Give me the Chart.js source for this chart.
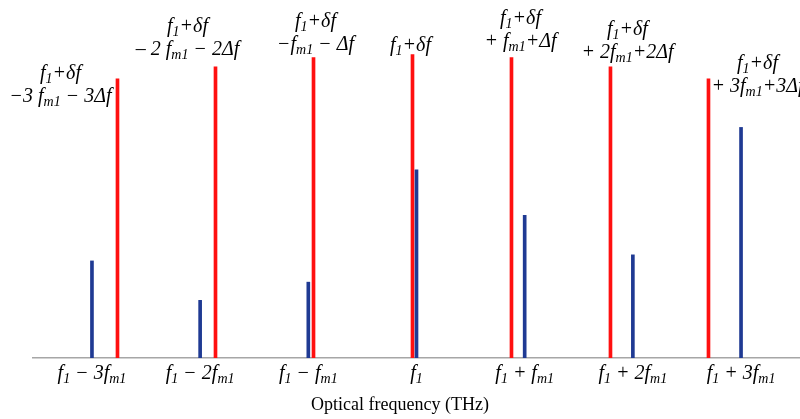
<!DOCTYPE html>
<html lang="en">
<head>
  <meta charset="UTF-8" />
  <title>Optical comb spectrum</title>
  <script src="https://cdn.jsdelivr.net/npm/chart.js"></script>
  <style>
    html, body { margin: 0; padding: 0; background: #fff; }
    #wrap { width: 800px; height: 419px; }
  </style>
</head>
<body>
  <div id="wrap"><canvas id="spectrum"></canvas></div>

  <script>
    // blue comb: harmonic index k of f1 + k*fm1 (units of fm1)
    const harmonics = [-3, -2, -1, 0, 1, 2, 3];
    const blueAmp = [0.32, 0.19, 0.25, 0.62, 0.47, 0.34, 0.76];

    // red comb: shifted by δf and spaced by fm1+Δf (same units)
    const redPos = [-2.764, -1.858, -0.952, -0.037, 0.878, 1.793, 2.699];
    const redAmp = [0.92, 0.96, 0.99, 1.0, 0.99, 0.96, 0.92];

    // "_{..}" marks a subscript
    const tickLabels = [
      'f_{1} − 3f_{m1}', 'f_{1} − 2f_{m1}', 'f_{1} − f_{m1}', 'f_{1}',
      'f_{1} + f_{m1}', 'f_{1} + 2f_{m1}', 'f_{1} + 3f_{m1}'
    ];
    const redNotes = [
      ['f_{1}+δf', '−3 f_{m1} − 3Δf'],
      ['f_{1}+δf', '– 2 f_{m1} − 2Δf'],
      ['f_{1}+δf', '−f_{m1} − Δf'],
      ['f_{1}+δf'],
      ['f_{1}+δf', '+ f_{m1}+Δf'],
      ['f_{1}+δf', '+ 2f_{m1}+2Δf'],
      ['f_{1}+δf', '+ 3f_{m1}+3Δf']
    ];
    const axisTitle = 'Optical frequency (THz)';
    // pixel nudge of each note's last line from the top of its red line
    const noteNudge = [[-57, 18], [-28, -17], [2, -13], [-2, -9], [9, -16], [17, -14], [49, 8]];

    const MATH_FONT = '"Liberation Serif", "DejaVu Serif", serif';

    function parseRich(str) {
      const runs = [];
      const re = /_\{([^}]*)\}|([^_]+)/g;
      let m;
      while ((m = re.exec(str)) !== null) {
        if (m[1] !== undefined) runs.push({ t: m[1], sub: true });
        else runs.push({ t: m[2], sub: false });
      }
      return runs;
    }

    function drawRich(ctx, str, cx, cy, size) {
      const runs = parseRich(str);
      const subSize = Math.round(size * 0.7);
      let total = 0;
      runs.forEach(r => {
        ctx.font = 'italic ' + (r.sub ? subSize : size) + 'px ' + MATH_FONT;
        r.w = ctx.measureText(r.t).width;
        total += r.w;
      });
      let x = cx - total / 2;
      runs.forEach(r => {
        ctx.font = 'italic ' + (r.sub ? subSize : size) + 'px ' + MATH_FONT;
        ctx.fillText(r.t, x, cy + (r.sub ? size * 0.28 : 0));
        x += r.w;
      });
    }

    const mathLabels = {
      id: 'mathLabels',
      afterDraw(chart) {
        const ctx = chart.ctx;
        const xs = chart.scales.x, ys = chart.scales.y;
        ctx.save();
        ctx.fillStyle = '#000';
        ctx.textAlign = 'left';
        ctx.textBaseline = 'middle';

        harmonics.forEach((k, i) => {
          drawRich(ctx, tickLabels[i], xs.getPixelForValue(k), chart.chartArea.bottom + 16, 20);
        });

        redPos.forEach((p, i) => {
          const lines = redNotes[i];
          const cx = xs.getPixelForValue(p) + noteNudge[i][0];
          const lastY = ys.getPixelForValue(redAmp[i]) + noteNudge[i][1];
          lines.forEach((ln, j) => {
            drawRich(ctx, ln, cx, lastY - (lines.length - 1 - j) * 23, 20);
          });
        });

        // axis title sits centred on the page, not on the plot area
        ctx.textAlign = 'center';
        ctx.font = '18px ' + MATH_FONT;
        ctx.fillText(axisTitle, chart.width / 2, chart.chartArea.bottom + 47);
        ctx.restore();
      }
    };

    new Chart(document.getElementById('spectrum'), {
      type: 'bar',
      data: {
        datasets: [
          {
            label: 'Comb 1',
            data: harmonics.map((k, i) => ({ x: k, y: blueAmp[i] })),
            backgroundColor: '#1f3a93',
            barThickness: 3,
            grouped: false
          },
          {
            label: 'Comb 2',
            data: redPos.map((p, i) => ({ x: p, y: redAmp[i] })),
            backgroundColor: '#ff1010',
            barThickness: 3,
            grouped: false
          }
        ]
      },
      options: {
        responsive: true,
        maintainAspectRatio: false,
        animation: false,
        layout: { padding: { left: 33, right: 0, top: 0, bottom: 61 } },
        plugins: {
          legend: { display: false },
          tooltip: { enabled: false }
        },
        scales: {
          x: {
            type: 'linear',
            min: -3.545,
            max: 3.545,
            offset: false,
            grid: { display: false, drawTicks: false },
            border: { display: true, color: '#a6a6a6', width: 1.5 },
            ticks: { display: false }
          },
          y: {
            display: false,
            min: 0,
            max: 1.18
          }
        }
      },
      plugins: [mathLabels]
    });
  </script>
</body>
</html>
